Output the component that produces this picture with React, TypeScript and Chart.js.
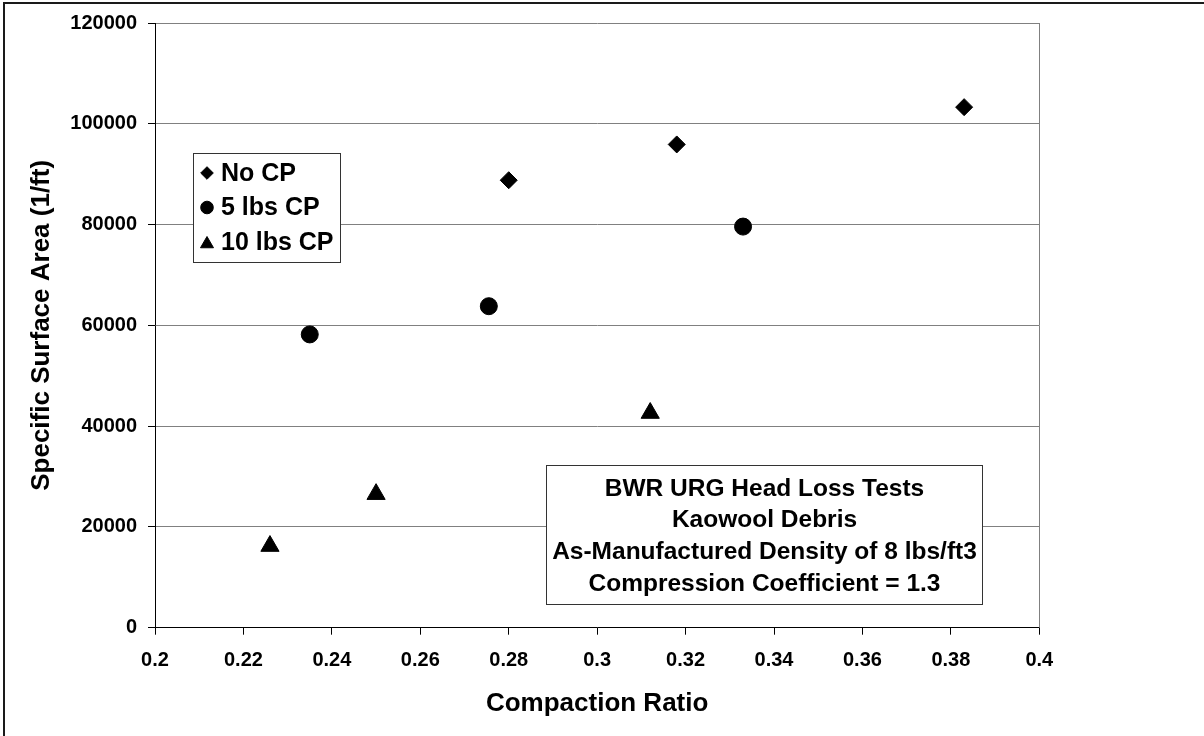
import React, { useEffect, useRef } from "react";
import { Chart, registerables } from "chart.js";
import { drawPoint } from "chart.js/helpers";

Chart.register(...registerables);

const seriesNames = ["No CP", "5 lbs CP", "10 lbs CP"];
const seriesStyles = ["rectRot", "circle", "triangle"];
const noCpX = [0.28, 0.318, 0.383];
const noCpY = [88800, 95900, 103300];
const cp5X = [0.235, 0.2755, 0.333];
const cp5Y = [58200, 63800, 79600];
const cp10X = [0.226, 0.25, 0.312];
const cp10Y = [16200, 26500, 42600];

const xTickValues = [0.2, 0.22, 0.24, 0.26, 0.28, 0.3, 0.32, 0.34, 0.36, 0.38, 0.4];
const xTickLabels = ["0.2", "0.22", "0.24", "0.26", "0.28", "0.3", "0.32", "0.34", "0.36", "0.38", "0.4"];
const yTickValues = [0, 20000, 40000, 60000, 80000, 100000, 120000];
const yTickLabels = ["0", "20000", "40000", "60000", "80000", "100000", "120000"];

const xTitle = "Compaction Ratio";
const yTitle = "Specific Surface Area (1/ft)";
const annotationLines = [
  "BWR URG Head Loss Tests",
  "Kaowool Debris",
  "As-Manufactured Density of 8 lbs/ft3",
  "Compression Coefficient = 1.3",
];

const FONT = "'Liberation Sans', Arial, Helvetica, sans-serif";

const toPoints = (xs: number[], ys: number[]) => xs.map((x, i) => ({ x, y: ys[i] }));

const framePlugin = {
  id: "frame",
  beforeDraw(chart: any) {
    const ctx = chart.ctx;
    ctx.save();
    ctx.fillStyle = "#ffffff";
    ctx.fillRect(0, 0, chart.width, chart.height);
    ctx.fillStyle = "#1a1a1a";
    ctx.fillRect(3, 2, 2, chart.height);
    ctx.fillRect(3, 2, chart.width, 2);
    ctx.restore();
  },
  afterDatasetsDraw(chart: any) {
    const ctx = chart.ctx;
    const a = chart.chartArea;
    ctx.save();
    ctx.strokeStyle = "#808080";
    ctx.lineWidth = 1;
    ctx.beginPath();
    ctx.moveTo(Math.round(a.right) + 0.5, a.top);
    ctx.lineTo(Math.round(a.right) + 0.5, a.bottom);
    ctx.stroke();
    ctx.restore();
  },
  afterDraw(chart: any) {
    const ctx = chart.ctx;
    ctx.save();
    // legend box
    const lx = 193.5, ly = 153.5, lw = 147, lh = 109;
    ctx.fillStyle = "#ffffff";
    ctx.fillRect(lx, ly, lw, lh);
    ctx.strokeStyle = "#333333";
    ctx.lineWidth = 1;
    ctx.strokeRect(lx, ly, lw, lh);
    const rowY = [173, 207.5, 242];
    ctx.font = `bold 25px ${FONT}`;
    ctx.textBaseline = "middle";
    ctx.textAlign = "left";
    chart.data.datasets.forEach((ds: any, i: number) => {
      ctx.fillStyle = "#000";
      ctx.strokeStyle = "#000";
      ctx.lineWidth = 1;
      const st = ds.pointStyle;
      const r = st === "triangle" ? 7.5 : 6.3;
      drawPoint(ctx, { pointStyle: st, radius: r, rotation: 0, borderWidth: 1 } as any, 207, rowY[i] + (st === "triangle" ? 2 : 0));
      ctx.fillStyle = "#000";
      ctx.fillText(ds.label, 221, rowY[i] + 1);
    });
    // annotation box
    const ax = 546.5, ay = 465.5, aw = 436, ah = 139;
    ctx.fillStyle = "#ffffff";
    ctx.fillRect(ax, ay, aw, ah);
    ctx.strokeStyle = "#333333";
    ctx.strokeRect(ax, ay, aw, ah);
    ctx.fillStyle = "#000";
    ctx.font = `bold 24.5px ${FONT}`;
    ctx.textAlign = "center";
    annotationLines.forEach((t, i) => {
      ctx.fillText(t, ax + aw / 2, 489 + i * 31.7);
    });
    ctx.restore();
  },
};

export default function App() {
  const ref = useRef<HTMLCanvasElement | null>(null);
  useEffect(() => {
    document.body.style.margin = "0";
    const canvas = ref.current!;
    const mk = (label: string, pts: any[], style: string, radius: number) => ({
      label,
      data: pts,
      pointStyle: style,
      pointRadius: radius,
      pointHoverRadius: radius,
      pointBackgroundColor: "#000",
      pointBorderColor: "#000",
      pointBorderWidth: 1,
      showLine: false,
    });
    const chart = new Chart(canvas, {
      type: "scatter",
      data: {
        datasets: [
          mk(seriesNames[0], toPoints(noCpX, noCpY), seriesStyles[0], 8.5),
          mk(seriesNames[1], toPoints(cp5X, cp5Y), seriesStyles[1], 8.5),
          mk(seriesNames[2], toPoints(cp10X, cp10Y), seriesStyles[2], 10.5),
        ],
      },
      options: {
        animation: false,
        responsive: false,
        devicePixelRatio: 1,
        layout: { padding: { left: 0, top: 22.7, right: 164.7, bottom: 0 } },
        plugins: {
          legend: { display: false },
          tooltip: { enabled: false },
          title: { display: false },
        },
        scales: {
          x: {
            type: "linear",
            min: 0.2,
            max: 0.4,
            afterBuildTicks: (s: any) => {
              s.ticks = xTickValues.map((v) => ({ value: v }));
            },
            afterFit: (s: any) => {
              s.height = 108.3;
            },
            ticks: {
              autoSkip: false,
              maxRotation: 0,
              padding: 14,
              color: "#000",
              font: { family: FONT, size: 20, weight: "bold" },
              callback: (_v: any, i: number) => xTickLabels[i],
            },
            grid: {
              drawOnChartArea: false,
              drawTicks: true,
              tickLength: 7,
              tickColor: "#000",
            },
            border: { color: "#000", width: 1 },
            title: {
              display: true,
              text: xTitle,
              color: "#000",
              font: { family: FONT, size: 26, weight: "bold" },
              padding: { top: 0, bottom: 17 },
            },
          },
          y: {
            type: "linear",
            min: 0,
            max: 120000,
            afterBuildTicks: (s: any) => {
              s.ticks = yTickValues.map((v) => ({ value: v }));
            },
            afterFit: (s: any) => {
              s.width = 155;
            },
            ticks: {
              autoSkip: false,
              padding: 11,
              color: "#000",
              font: { family: FONT, size: 20, weight: "bold" },
              callback: (_v: any, i: number) => yTickLabels[i],
            },
            grid: {
              drawOnChartArea: true,
              color: "#808080",
              lineWidth: 1,
              drawTicks: true,
              tickLength: 7,
              tickColor: "#000",
            },
            border: { color: "#000", width: 1 },
            title: {
              display: true,
              text: yTitle,
              color: "#000",
              font: { family: FONT, size: 26, weight: "bold" },
              padding: { top: 26, bottom: 0 },
            },
          },
        },
      } as any,
      plugins: [framePlugin],
    });
    return () => chart.destroy();
  }, []);
  return (
    <div style={{ width: 1204, height: 736, position: "relative" }}>
      <canvas ref={ref} width={1204} height={736} style={{ display: "block", width: 1204, height: 736 }} />
    </div>
  );
}
